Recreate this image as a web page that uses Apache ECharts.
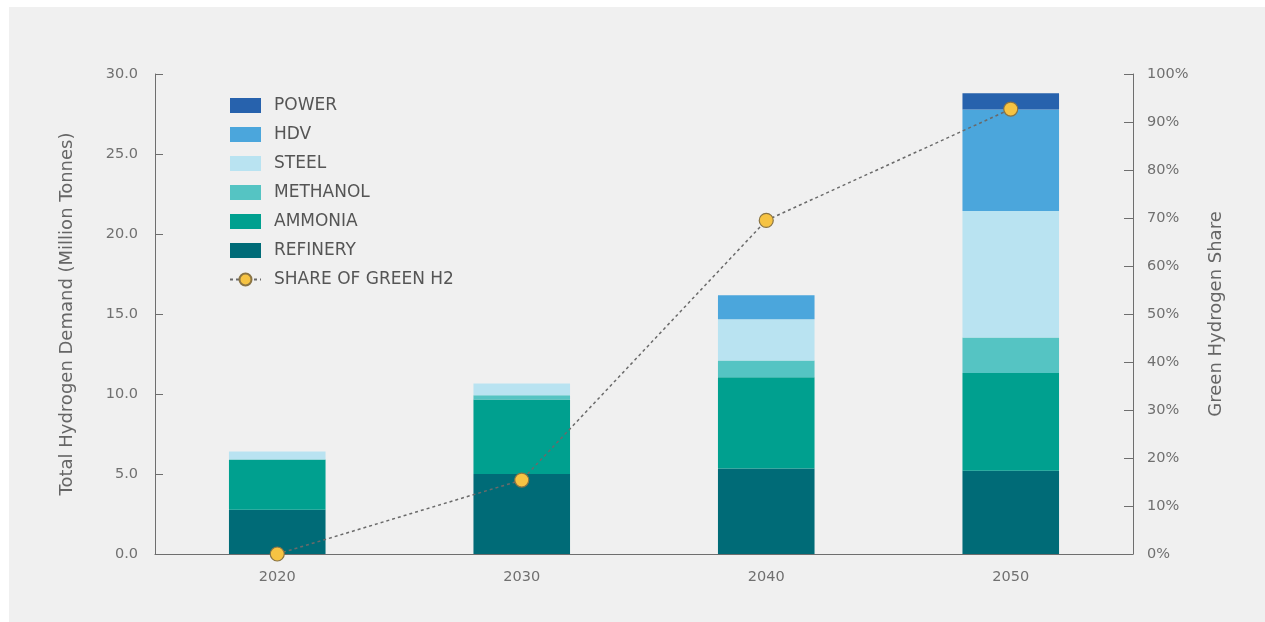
<!DOCTYPE html>
<html>
<head>
<meta charset="utf-8">
<script src="https://cdn.jsdelivr.net/npm/echarts@6/dist/echarts.min.js"></script>
<style>
html,body{margin:0;padding:0;background:#ffffff;}
#chart{width:1265px;height:622px;}
</style>
</head>
<body>
<div id="chart"></div>
<script>
const years = ['2020', '2030', '2040', '2050'];
const refinery = [2.77, 5.0, 5.34, 5.2];
const ammonia = [3.14, 4.65, 5.7, 6.12];
const methanol = [0, 0.27, 1.06, 2.21];
const steel = [0.5, 0.73, 2.57, 7.9];
const hdv = [0, 0, 1.5, 6.35];
const power = [0, 0, 0, 1.01];
const greenShare = [0, 15.4, 69.5, 92.7];
const leftTicks = ['0.0', '5.0', '10.0', '15.0', '20.0', '25.0', '30.0'];

const FONT = '"DejaVu Sans", "Open Sans", sans-serif';
const chart = echarts.init(document.getElementById('chart'));

function barSeries(name, data, color) {
  return {
    name: name, type: 'bar', stack: 'total', data: data,
    barWidth: '39.5%',
    itemStyle: { color: color },
    emphasis: { disabled: true }
  };
}

chart.setOption({
  animation: false,
  backgroundColor: '#ffffff',
  textStyle: { fontFamily: FONT },
  graphic: [{
    type: 'rect', left: 9, top: 7, z: -10,
    shape: { width: 1256, height: 615 },
    style: { fill: '#f0f0f0' }
  }],
  grid: { left: 155, right: 132, top: 74, bottom: 68, containLabel: false },
  legend: {
    orient: 'vertical', left: 229, top: 97, padding: 0,
    itemWidth: 31, itemHeight: 15, itemGap: 12,
    data: [
      { name: 'POWER', icon: 'rect' },
      { name: 'HDV', icon: 'rect' },
      { name: 'STEEL', icon: 'rect' },
      { name: 'METHANOL', icon: 'rect' },
      { name: 'AMMONIA', icon: 'rect' },
      { name: 'REFINERY', icon: 'rect' },
      { name: 'SHARE OF GREEN H2' }
    ],
    textStyle: { color: '#555555', fontSize: 17, fontFamily: FONT, padding: [0, 0, 0, 8] },
    selectedMode: false
  },
  xAxis: {
    type: 'category', data: years,
    axisLine: { lineStyle: { color: '#6e6e6e', width: 1 } },
    axisTick: { show: false },
    axisLabel: { color: '#707070', fontSize: 14.5, margin: 16, fontFamily: FONT }
  },
  yAxis: [{
    type: 'value', min: 0, max: 30, interval: 5,
    name: 'Total Hydrogen Demand (Million Tonnes)',
    nameLocation: 'middle', nameGap: 79, nameRotate: 90,
    nameTextStyle: { color: '#666666', fontSize: 18, fontFamily: FONT },
    axisLine: { show: true, lineStyle: { color: '#6e6e6e' } },
    axisTick: { show: true, inside: true, length: 8, lineStyle: { color: '#6e6e6e' } },
    splitLine: { show: false },
    axisLabel: {
      color: '#707070', fontSize: 14.5, margin: 17, fontFamily: FONT,
      formatter: function (v) { return leftTicks[Math.round(v / 5)]; }
    }
  }, {
    type: 'value', min: 0, max: 100, interval: 10, position: 'right',
    name: 'Green Hydrogen Share',
    nameLocation: 'middle', nameGap: 74, nameRotate: 90,
    nameTextStyle: { color: '#666666', fontSize: 18, fontFamily: FONT },
    axisLine: { show: true, lineStyle: { color: '#6e6e6e' } },
    axisTick: { show: true, inside: true, length: 9, lineStyle: { color: '#6e6e6e' } },
    splitLine: { show: false },
    axisLabel: { color: '#707070', fontSize: 14.5, margin: 14, fontFamily: FONT, formatter: '{value}%' }
  }],
  series: [
    barSeries('REFINERY', refinery, '#006b77'),
    barSeries('AMMONIA', ammonia, '#00a08f'),
    barSeries('METHANOL', methanol, '#55c4c3'),
    barSeries('STEEL', steel, '#b9e3f1'),
    barSeries('HDV', hdv, '#4ba6dc'),
    barSeries('POWER', power, '#2762ad'),
    {
      name: 'SHARE OF GREEN H2', type: 'line', yAxisIndex: 1, data: greenShare,
      symbol: 'circle', symbolSize: 14, z: 10,
      lineStyle: { color: '#6a6a6a', width: 1.5, type: [3, 3] },
      itemStyle: { color: '#f6c343', borderColor: '#8a7444', borderWidth: 1.2 },
      emphasis: { disabled: true }
    }
  ]
});
</script>
</body>
</html>
